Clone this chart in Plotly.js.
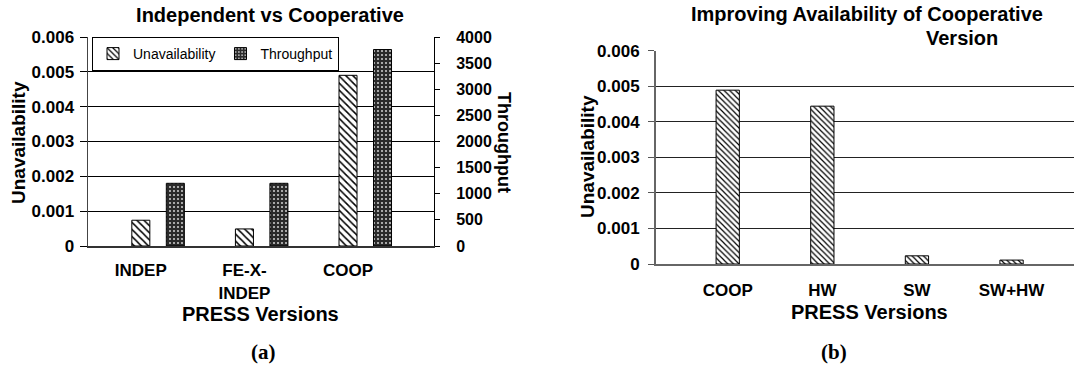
<!DOCTYPE html>
<html>
<head>
<meta charset="utf-8">
<script src="https://cdn.plot.ly/plotly-3.0.1.min.js"></script>
<style>
  html, body { margin: 0; padding: 0; background: #fff; }
  #chart { width: 1074px; height: 372px; }
</style>
</head>
<body>
<div id="chart"></div>
<script>
// ---- data ----
const categoriesA = ['INDEP', 'FE-X-<br>INDEP', 'COOP'];
const unavailA = [0.00074, 0.00049, 0.0049];
const throughputA = [1200, 1200, 3760];
const categoriesB = ['COOP', 'HW', 'SW', 'SW+HW'];
const unavailB = [0.00489, 0.00444, 0.00023, 0.00011];
const leftTicks = [0, 0.001, 0.002, 0.003, 0.004, 0.005, 0.006];
const rightTicks = [0, 500, 1000, 1500, 2000, 2500, 3000, 3500, 4000];

const W = 1074, H = 372;
const px = v => v / W;
const py = v => 1 - v / H;
const SANS = 'Liberation Sans, Arial, Helvetica, sans-serif';
const SERIF = 'Liberation Serif, Times New Roman, serif';

const hatch = (size) => ({ shape: '\\', fgcolor: '#000', bgcolor: '#fff', size: size, solidity: 0.3, fillmode: 'replace' });

const traces = [
  {
    type: 'bar', name: 'Unavailability', x: categoriesA, y: unavailA,
    xaxis: 'x', yaxis: 'y', width: 0.174, offset: -0.087,
    marker: { color: '#fff', line: { color: '#000', width: 1 }, pattern: hatch(5) },
    hoverinfo: 'skip'
  },
  {
    type: 'bar', name: 'Throughput', x: categoriesA, y: throughputA,
    xaxis: 'x', yaxis: 'y2', width: 0.174, offset: 0.246,
    marker: { color: '#2a2a2a', line: { color: '#000', width: 1 },
      pattern: { shape: '.', fgcolor: '#c8c8c8', bgcolor: '#2a2a2a', size: 4, solidity: 0.22, fillmode: 'replace' } },
    hoverinfo: 'skip'
  },
  {
    type: 'bar', name: 'Unavailability', showlegend: false, x: categoriesB, y: unavailB,
    xaxis: 'x2', yaxis: 'y3', width: 0.246, offset: -0.123,
    marker: { color: '#fff', line: { color: '#000', width: 1 }, pattern: hatch(4) },
    hoverinfo: 'skip'
  }
];

const tickFont = { family: SANS, size: 17, color: '#000', weight: 'bold' };
const catFont = { family: SANS, size: 17, color: '#000', weight: 'bold' };

const layout = {
  width: W, height: H,
  margin: { l: 0, r: 0, t: 0, b: 0 },
  paper_bgcolor: '#fff', plot_bgcolor: 'rgba(0,0,0,0)',
  barmode: 'overlay',
  font: { family: SANS, color: '#000' },
  title: {
    text: 'Independent vs Cooperative',
    x: px(270), xanchor: 'center', xref: 'paper',
    y: py(15), yanchor: 'middle', yref: 'paper',
    font: { family: SANS, size: 20, color: '#000', weight: 'bold' }
  },
  showlegend: true,
  legend: {
    x: px(92), xanchor: 'left', y: py(37), yanchor: 'top',
    orientation: 'h', bgcolor: '#fff', bordercolor: '#000', borderwidth: 1,
    font: { family: SANS, size: 14, color: '#000' },
    itemwidth: 30, tracegroupgap: 0, traceorder: 'normal'
  },
  xaxis: {
    domain: [px(88), px(434)], anchor: 'y', type: 'category',
    range: [-0.51, 2.83], showgrid: false, zeroline: false,
    showline: true, linecolor: '#333', linewidth: 2,
    ticks: '', tickfont: catFont, ticklabelstandoff: 8
  },
  yaxis: {
    domain: [py(246), py(37)], anchor: 'x', range: [0, 0.006],
    tickvals: leftTicks, ticktext: leftTicks.map(String),
    showgrid: true, gridcolor: '#000', gridwidth: 1, zeroline: false,
    showline: true, linecolor: '#444', linewidth: 1.5,
    ticks: 'outside', ticklen: 7, tickcolor: '#000', tickwidth: 1,
    tickfont: tickFont, ticklabelstandoff: 2
  },
  yaxis2: {
    overlaying: 'y', side: 'right', anchor: 'x', range: [0, 4000],
    tickvals: rightTicks, ticktext: rightTicks.map(String),
    showgrid: false, zeroline: false,
    showline: true, linecolor: '#000', linewidth: 1,
    ticks: 'outside', ticklen: 5, tickcolor: '#000', tickwidth: 1,
    tickfont: { family: SANS, size: 16, color: '#000', weight: 'bold' }, ticklabelstandoff: 13
  },
  yaxis4: {
    overlaying: 'y', side: 'right', anchor: 'x', range: [0, 4000],
    tickvals: rightTicks, showticklabels: false,
    showgrid: false, zeroline: false, showline: false,
    ticks: 'inside', ticklen: 5, tickcolor: '#000', tickwidth: 1
  },
  xaxis2: {
    domain: [px(656), 1], anchor: 'y3', type: 'category',
    range: [-0.758, 3.66], showgrid: false, zeroline: false,
    showline: true, linecolor: '#666', linewidth: 2,
    ticks: '', tickfont: catFont, ticklabelstandoff: 10
  },
  yaxis3: {
    domain: [py(264), py(50.7)], anchor: 'x2', range: [0, 0.006],
    tickvals: leftTicks, ticktext: leftTicks.map(String),
    showgrid: true, gridcolor: '#222', gridwidth: 1, zeroline: false,
    showline: true, linecolor: '#666', linewidth: 2,
    ticks: 'outside', ticklen: 6, tickcolor: '#555', tickwidth: 1,
    tickfont: tickFont, ticklabelstandoff: 5
  },
  annotations: [
    { text: 'Unavailability', xref: 'paper', yref: 'paper', x: px(18), y: py(143),
      xanchor: 'center', yanchor: 'middle', textangle: -90, showarrow: false,
      font: { family: SANS, size: 19, color: '#000', weight: 'bold' } },
    { text: 'Throughput', xref: 'paper', yref: 'paper', x: px(504), y: py(142),
      xanchor: 'center', yanchor: 'middle', textangle: 90, showarrow: false,
      font: { family: SANS, size: 18, color: '#000', weight: 'bold' } },
    { text: 'PRESS Versions', xref: 'paper', yref: 'paper', x: px(260), y: py(314),
      xanchor: 'center', yanchor: 'middle', showarrow: false,
      font: { family: SANS, size: 20, color: '#000', weight: 'bold' } },
    { text: 'Improving Availability of Cooperative', xref: 'paper', yref: 'paper', x: px(867), y: py(14),
      xanchor: 'center', yanchor: 'middle', showarrow: false,
      font: { family: SANS, size: 20, color: '#000', weight: 'bold' } },
    { text: 'Version', xref: 'paper', yref: 'paper', x: px(962), y: py(38),
      xanchor: 'center', yanchor: 'middle', showarrow: false,
      font: { family: SANS, size: 20, color: '#000', weight: 'bold' } },
    { text: 'Unavailability', xref: 'paper', yref: 'paper', x: px(587), y: py(157),
      xanchor: 'center', yanchor: 'middle', textangle: -90, showarrow: false,
      font: { family: SANS, size: 19, color: '#000', weight: 'bold' } },
    { text: 'PRESS Versions', xref: 'paper', yref: 'paper', x: px(869), y: py(312),
      xanchor: 'center', yanchor: 'middle', showarrow: false,
      font: { family: SANS, size: 20, color: '#000', weight: 'bold' } },
    { text: '(a)', xref: 'paper', yref: 'paper', x: px(263), y: py(352),
      xanchor: 'center', yanchor: 'middle', showarrow: false,
      font: { family: SERIF, size: 21, color: '#000', weight: 'bold' } },
    { text: '(b)', xref: 'paper', yref: 'paper', x: px(834), y: py(352),
      xanchor: 'center', yanchor: 'middle', showarrow: false,
      font: { family: SERIF, size: 21, color: '#000', weight: 'bold' } }
  ]
};

Plotly.newPlot('chart', traces, layout, { staticPlot: true, displayModeBar: false });
</script>
</body>
</html>
